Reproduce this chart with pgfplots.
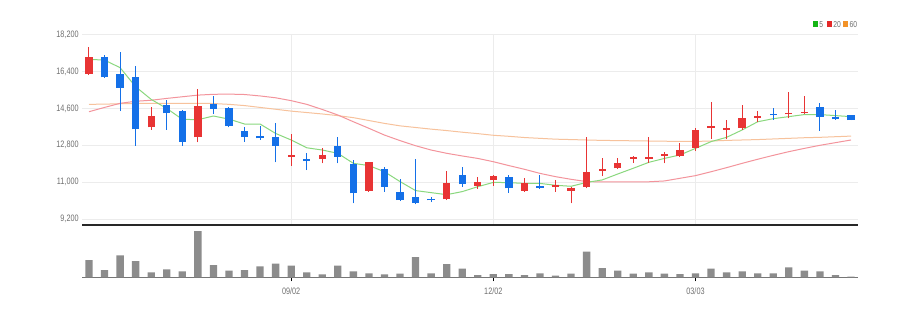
\documentclass[border=0pt]{standalone}
\usepackage{fontspec}
\setmainfont{Liberation Sans}[FakeStretch=0.78]
\usepackage{pgfplots}
\usepackage{pgfplotstable}
\pgfplotsset{compat=1.18}
\definecolor{cred}{RGB}{232,52,52}
\definecolor{cblue}{RGB}{20,112,232}
\definecolor{ma5}{RGB}{138,216,126}
\definecolor{ma20}{RGB}{243,148,156}
\definecolor{ma60}{RGB}{247,194,156}
\definecolor{gridc}{RGB}{236,236,236}
\definecolor{labelgray}{RGB}{112,112,112}
\definecolor{volc}{RGB}{140,140,140}
\definecolor{basegray}{RGB}{118,118,118}
\definecolor{lgreen}{RGB}{20,180,20}
\definecolor{lred}{RGB}{228,40,40}
\definecolor{lorange}{RGB}{242,146,40}

% up (red) candles: x open high low close
\pgfplotstableread{
x o h l c
0 16280 17580 16250 17130
4 13680 14690 13550 14250
7 13190 15530 12940 14720
13 12250 13350 11810 12330
15 12150 12670 11920 12340
18 10570 12000 10530 11970
23 10160 11560 10130 10980
25 10810 11270 10670 11030
26 11090 11350 10830 11290
28 10570 11190 10540 10980
30 10760 11090 10540 10850
31 10580 10780 9970 10700
32 10780 13220 10700 11510
33 11550 12200 11300 11660
34 11680 12160 11660 11920
35 12150 12290 11950 12230
36 12130 13200 11950 12230
37 12280 12470 11920 12360
38 12260 12900 12240 12590
39 12650 13630 12520 13530
40 13660 14910 13110 13760
41 13550 14040 13090 13630
42 13660 14770 13550 14150
43 14150 14470 13920 14250
45 14310 15400 14120 14390
46 14380 15220 14340 14440
}\upc

% down (blue) candles: x open high low close
\pgfplotstableread{
x o h l c
1 17130 17190 16100 16120
2 16260 17340 14470 15610
3 16120 16670 12780 13580
5 14750 15010 13550 14360
6 14470 14520 12780 12980
8 14820 15210 14330 14570
9 14620 14650 13680 13740
10 13510 13680 12980 13220
11 13250 13740 13060 13140
12 13220 13900 11970 12770
14 12120 12410 11590 12030
16 12770 13220 11920 12250
17 11870 12080 9970 10450
19 11630 11760 10540 10780
20 10520 11140 10080 10130
21 10260 12120 9920 9980
22 10200 10290 10030 10110
24 11370 11760 10780 10910
27 11240 11330 10490 10700
29 10810 11330 10680 10720
44 14340 14600 14040 14260
47 14670 14850 13510 14170
48 14170 14520 14040 14070
49 14260 14260 14035 14035
}\dnc

% moving averages
\pgfplotstableread{
x m5 m20 m60
0 16996 14440 14800
1 16960 14650 14810
2 16590 14850 14830
3 15660 14950 14840
4 15040 15000 14850
5 14600 15090 14850
6 14070 15170 14850
7 14050 15250 14850
8 14230 15290 14840
9 14080 15300 14800
10 13840 15280 14740
11 13840 15210 14650
12 13380 15120 14560
13 13060 14980 14470
14 12680 14800 14400
15 12570 14550 14330
16 12410 14280 14250
17 11920 13950 14150
18 11810 13630 14010
19 11510 13300 13870
20 11030 13030 13750
21 10590 12780 13670
22 10490 12570 13590
23 10390 12410 13520
24 10540 12280 13440
25 10780 12160 13370
26 10990 12000 13290
27 10980 11810 13240
28 10940 11630 13180
29 10940 11430 13140
30 10850 11270 13100
31 10800 11140 13080
32 10990 11030 13060
33 11110 11010 13040
34 11400 11010 13030
35 11680 11010 13020
36 11970 11020 13010
37 12160 11060 13000
38 12330 11190 12990
39 12650 11320 12990
40 12980 11510 13010
41 13190 11710 13040
42 13550 11920 13060
43 13950 12120 13080
44 14100 12310 13110
45 14200 12490 13140
46 14300 12650 13170
47 14300 12800 13190
48 14250 12930 13220
49 14200 13060 13250
}\ma

% volume (relative units)
\pgfplotstableread{
x v
0 52
1 22
2 66
3 49
4 15
5 24
6 18
7 139
8 37
9 20
10 22
11 33
12 41
13 35
14 15
15 9
16 35
17 18
18 12
19 9
20 11
21 61
22 12
23 40
24 26
25 7
26 10
27 10
28 7
29 12
30 5
31 11
32 77
33 28
34 20
35 11
36 15
37 11
38 10
39 12
40 26
41 15
42 18
43 12
44 12
45 30
46 20
47 18
48 7
49 2
}\vol

\begin{document}
\begin{tikzpicture}
\path[use as bounding box, fill=white] (0pt,0pt) rectangle (687pt,234pt);

% price panel
\begin{axis}[
  at={(61.5pt,65.25pt)}, anchor=south west, scale only axis,
  width=582pt, height=142.73pt,
  xmin=-0.45, xmax=49.45, ymin=8910, ymax=18200,
  axis x line*=bottom, axis y line*=left,
  y axis line style={draw=none},
  x axis line style={draw={rgb,255:red,40;green,40;blue,40}, line width=0.9pt},
  major tick length=0pt,
  xtick={13,26,39}, xticklabels={},
  ytick={9200,11000,12800,14600,16400,18200},
  scaled y ticks=false,
  xmajorgrids, ymajorgrids,
  grid style={color=gridc, line width=0.6pt},
  /pgf/number format/assume math mode=true,
  /pgf/number format/1000 sep={,},
  yticklabel style={font=\fontsize{7}{8}\selectfont, text=labelgray, inner sep=0pt, xshift=-2.3pt,
    /pgf/number format/fixed, /pgf/number format/precision=0},
  clip=false,
]
% moving averages
\addplot[ma60, line width=0.75pt, mark=none] table[x=x, y=m60] {\ma};
\addplot[ma20, line width=0.75pt, mark=none] table[x=x, y=m20] {\ma};
\addplot[ma5, line width=0.75pt, mark=none] table[x=x, y=m5] {\ma};
% wicks
\addplot[draw=none, mark=none, error bars/.cd, y dir=plus, y explicit, error mark=none,
  error bar style={line width=0.75pt, draw=cred}]
  table[x=x, y=l, y error plus expr=\thisrow{h}-\thisrow{l}] {\upc};
\addplot[draw=none, mark=none, error bars/.cd, y dir=plus, y explicit, error mark=none,
  error bar style={line width=0.75pt, draw=cblue}]
  table[x=x, y=l, y error plus expr=\thisrow{h}-\thisrow{l}] {\dnc};
% bodies
\addplot[draw=none, mark=none, error bars/.cd, y dir=plus, y explicit, error mark=none,
  error bar style={line width=5.5pt, draw=cred, line cap=butt}]
  table[x=x, y=o, y error plus expr=\thisrow{c}-\thisrow{o}] {\upc};
\addplot[draw=none, mark=none, error bars/.cd, y dir=plus, y explicit, error mark=none,
  error bar style={line width=5.5pt, draw=cblue, line cap=butt}]
  table[x=x, y=c, y error plus expr=\thisrow{o}-\thisrow{c}] {\dnc};
\end{axis}

% volume panel
\begin{axis}[
  at={(61.5pt,26pt)}, anchor=south west, scale only axis,
  width=582pt, height=37pt,
  xmin=-0.45, xmax=49.45, ymin=0, ymax=148,
  axis x line*=bottom, axis y line=none,
  x axis line style={draw=basegray, line width=1pt},
  xtick={13,26,39}, xticklabels={09/02,12/02,03/03},
  tick align=outside, major tick length=3pt,
  xtick style={color=black, line width=0.6pt},
  ytick=\empty,
  xticklabel style={font=\fontsize{7}{8}\selectfont, text=labelgray, yshift=-1pt},
  ybar, bar width=0.47, bar shift=0pt,
]
\addplot[fill=volc, draw=none] table[x=x, y=v] {\vol};
\end{axis}

% legend
\fill[lgreen] (609.75pt,213.4pt) rectangle ++(3.6pt,5.2pt);
\node[anchor=base west, inner sep=0pt, text=labelgray, font=\fontsize{6.5}{7}\selectfont] at (614.3pt,213.6pt) {5};
\fill[lred] (620.2pt,213.4pt) rectangle ++(3.6pt,5.2pt);
\node[anchor=base west, inner sep=0pt, text=labelgray, font=\fontsize{6.5}{7}\selectfont] at (624.8pt,213.6pt) {20};
\fill[lorange] (632.4pt,213.4pt) rectangle ++(3.6pt,5.2pt);
\node[anchor=base west, inner sep=0pt, text=labelgray, font=\fontsize{6.5}{7}\selectfont] at (637.0pt,213.6pt) {60};
\end{tikzpicture}
\end{document}
